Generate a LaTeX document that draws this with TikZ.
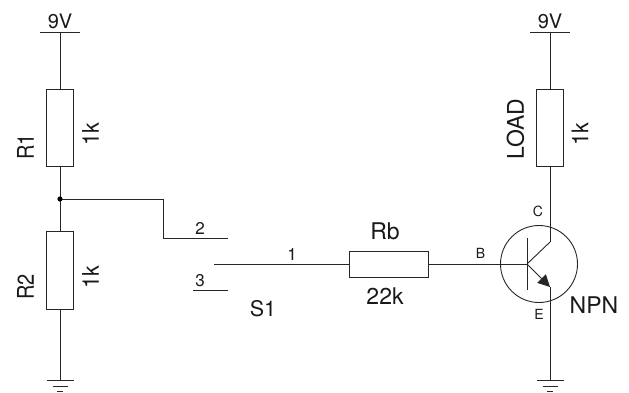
\documentclass[tikz,border=0pt]{standalone}
\usepackage{fontspec}
\setmainfont{TeX Gyre Heros}
\usetikzlibrary{arrows.meta}
\tikzset{
  x=1pt,y=-1pt,
  wire/.style={line width=0.9pt,draw=black!85},
  res/.style={draw=black!85,line width=0.9pt,fill=white,inner sep=0pt,minimum width=#1},
  lab/.style={inner sep=0pt,text=black!90,font=\fontsize{20}{20}\selectfont},
  big/.style={inner sep=0pt,text=black!90,font=\fontsize{23}{23}\selectfont},
  rlab/.style={inner sep=0pt,text=black!90,rotate=90,font=\fontsize{23}{23}\selectfont},
  mid/.style={inner sep=0pt,text=black!90,font=\fontsize{17}{17}\selectfont},
  tiny/.style={inner sep=0pt,text=black!90,font=\fontsize{14}{14}\selectfont},
}
\newcommand{\gndsym}[1]{%
  \draw[wire] ([xshift=-13.5pt]#1) -- ([xshift=13.5pt]#1);
  \draw[wire] ([xshift=-7.5pt,yshift=-6pt]#1) -- ([xshift=7.5pt,yshift=-6pt]#1);
  \draw[wire] ([xshift=-3pt,yshift=-11pt]#1) -- ([xshift=3pt,yshift=-11pt]#1);
}
\newcommand{\narrow}[2]{\scalebox{#1}[1]{#2}}
\begin{document}
\begin{tikzpicture}
\useasboundingbox (0,0) rectangle (629,392);
% rails
\coordinate (vl) at (60,32);
\coordinate (vr) at (550,32);
\coordinate (gl) at (60,380);
\coordinate (gr) at (550,380);
\coordinate (j) at (60,199);
\coordinate (k1) at (163,199);
\coordinate (k2) at (163,238);
\coordinate (p2) at (228,238);
\coordinate (p1) at (214,264);
\coordinate (p3a) at (193,290);
\coordinate (p3b) at (228,290);
\coordinate (tb) at (527,264);
\coordinate (tc) at (550,242);
\coordinate (te) at (550,287);
% resistors
\node[res=26.5pt,minimum height=77.5pt] (R1) at (60,128) {};
\node[res=26.5pt,minimum height=77.5pt] (R2) at (60,270.5) {};
\node[res=26.5pt,minimum height=77.5pt] (RL) at (550,128) {};
\node[res=79pt,minimum height=26pt] (Rb) at (388.5,264) {};
% transistor
\node[draw=black!85,line width=0.9pt,circle,minimum size=77pt,inner sep=0pt] (Q) at (539,264) {};
% wires
\draw[wire] ([xshift=-20pt]vl) -- ([xshift=20pt]vl);
\draw[wire] ([xshift=-20pt]vr) -- ([xshift=20pt]vr);
\draw[wire] (vl) -- (R1.north);
\draw[wire] (R1.south) -- (R2.north);
\draw[wire] (R2.south) -- (gl);
\draw[wire] (vr) -- (RL.north);
\draw[wire] (RL.south) -- (tc);
\draw[wire] (te) -- (gr);
\draw[wire] (j) -- (k1) -- (k2) -- (p2);
\fill[black] (j) circle (2.6pt);
\draw[wire] (p1) -- (Rb.west);
\draw[wire] (p3a) -- (p3b);
\draw[wire] (Rb.east) -- (tb);
\draw[wire] (527,238) -- (527,290);
\draw[wire] (tb) -- (tc);
\draw[wire,-{Triangle[length=12pt,width=12pt]}] (tb) -- (te);
\gndsym{gl}
\gndsym{gr}
% labels
\node[lab] (t9l) at (60,21) {9V};
\node[lab] (t9r) at (550,21) {9V};
\node[rlab] (tR1) at (25.5,147) {\narrow{0.87}{R1}};
\node[rlab] (tR2) at (25.5,287) {\narrow{0.87}{R2}};
\node[rlab] (tk1) at (90.5,134) {\narrow{0.93}{1k}};
\node[rlab] (tk2) at (90.5,277) {\narrow{0.93}{1k}};
\node[rlab] (tkL) at (580,134) {\narrow{0.93}{1k}};
\node[rlab] (tL) at (515.5,129) {LOAD};
\node[big] (tRb) at (385,231) {Rb};
\node[big] (t22) at (385,296) {22k};
\node[lab,font=\fontsize{21.5}{22}\selectfont] (tS) at (263,309) {S1};
\node[big] (tN) at (594,305) {NPN};
\node[mid] (t2) at (200,228) {2};
\node[mid] (t3) at (200,281) {3};
\node[mid] (t1) at (292,254) {1};
\node[tiny] (tB) at (480.5,253) {B};
\node[tiny] (tC) at (538,211) {C};
\node[tiny] (tE) at (539,314) {E};
\end{tikzpicture}
\end{document}
